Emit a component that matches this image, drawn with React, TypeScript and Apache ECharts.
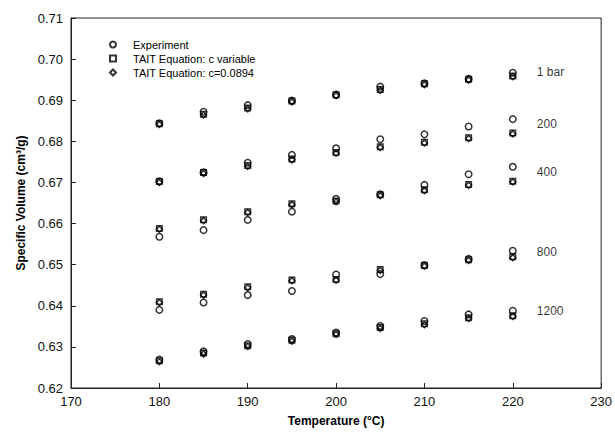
import React, { useEffect, useRef } from "react";
import * as echarts from "echarts";

// Temperatures (°C)
const temperatures = [180, 185, 190, 195, 200, 205, 210, 215, 220];
const pressureLabels = ["1 bar", "200", "400", "800", "1200"];

// Experiment (specific volume, cm3/g)
const exp1bar = [0.6844, 0.6872, 0.6888, 0.6899, 0.6914, 0.6933, 0.6941, 0.6952, 0.6967];
const exp200 = [0.6703, 0.6725, 0.6748, 0.6767, 0.6783, 0.6805, 0.6817, 0.6836, 0.6854];
const exp400 = [0.6568, 0.6584, 0.6609, 0.6629, 0.666, 0.6671, 0.6694, 0.672, 0.6738];
const exp800 = [0.639, 0.6408, 0.6426, 0.6436, 0.6476, 0.6477, 0.6499, 0.6514, 0.6534];
const exp1200 = [0.6269, 0.6289, 0.6307, 0.6319, 0.6335, 0.6351, 0.6363, 0.6379, 0.6388];

// TAIT Equation: c variable
const taitVar1bar = [0.6843, 0.6866, 0.6881, 0.6898, 0.6913, 0.6926, 0.694, 0.6951, 0.6959];
const taitVar200 = [0.6702, 0.6724, 0.6741, 0.6757, 0.6773, 0.6787, 0.6798, 0.6809, 0.682];
const taitVar400 = [0.6588, 0.6609, 0.6629, 0.6648, 0.6655, 0.667, 0.6682, 0.6695, 0.6703];
const taitVar800 = [0.641, 0.6428, 0.6446, 0.6463, 0.6464, 0.6488, 0.6498, 0.6512, 0.6519];
const taitVar1200 = [0.6266, 0.6285, 0.6303, 0.6316, 0.6332, 0.6347, 0.6356, 0.6371, 0.6376];

// TAIT Equation: c=0.0894
const taitFix1bar = [0.6841, 0.6864, 0.6879, 0.6896, 0.6911, 0.6924, 0.6938, 0.6949, 0.6957];
const taitFix200 = [0.67, 0.6722, 0.6739, 0.6755, 0.6771, 0.6785, 0.6796, 0.6807, 0.6818];
const taitFix400 = [0.6586, 0.6607, 0.6627, 0.6646, 0.6653, 0.6668, 0.668, 0.6693, 0.6701];
const taitFix800 = [0.6408, 0.6426, 0.6444, 0.6461, 0.6462, 0.6486, 0.6496, 0.651, 0.6517];
const taitFix1200 = [0.6264, 0.6283, 0.6301, 0.6314, 0.633, 0.6345, 0.6354, 0.6369, 0.6374];

const seriesNames = ["Experiment", "TAIT Equation: c variable", "TAIT Equation: c=0.0894"];

const expGroups = [exp1bar, exp200, exp400, exp800, exp1200];
const varGroups = [taitVar1bar, taitVar200, taitVar400, taitVar800, taitVar1200];
const fixGroups = [taitFix1bar, taitFix200, taitFix400, taitFix800, taitFix1200];

const toPairs = (groups: number[][]) =>
  groups.flatMap((g) => g.map((v, i) => [temperatures[i], v]));

const FONT = "Liberation Sans, Arial, sans-serif";
const INK = "#000";

export default function App() {
  const ref = useRef<HTMLDivElement>(null);

  useEffect(() => {
    if (!ref.current) return;
    const chart = echarts.init(ref.current, undefined, { renderer: "svg" });
    const last = temperatures.length - 1;
    const labelData = pressureLabels.map((name, k) => ({
      name,
      value: [temperatures[last], (expGroups[k][last] + varGroups[k][last]) / 2],
    }));

    const markerStyle = {
      color: "transparent",
      borderColor: "#000",
      borderWidth: 1.5,
    };

    chart.setOption({
      animation: false,
      backgroundColor: "#fff",
      textStyle: { fontFamily: FONT },
      grid: { left: 71, right: 9, top: 18, bottom: 44, containLabel: false, show: true, borderColor: "#222", borderWidth: 1 },
      legend: {
        data: seriesNames,
        orient: "vertical",
        left: 104,
        top: 34,
        itemWidth: 6,
        itemHeight: 6,
        itemGap: 3,
        textStyle: { fontFamily: FONT, fontSize: 11, color: INK, padding: [0, 0, 0, 12], lineHeight: 11 },
      },
      xAxis: {
        type: "value",
        min: 170,
        max: 230,
        interval: 10,
        name: "Temperature (°C)",
        nameLocation: "middle",
        nameGap: 27,
        nameTextStyle: { fontFamily: FONT, fontSize: 12, fontWeight: "bold", color: INK },
        axisLine: { show: true, lineStyle: { color: "#222", width: 1 } },
        axisTick: { show: true, inside: true, length: 5, lineStyle: { color: "#222" } },
        axisLabel: { fontFamily: FONT, fontSize: 13, color: "#111", margin: 7 },
        splitLine: { show: false },
      },
      yAxis: {
        type: "value",
        min: 0.62,
        max: 0.71,
        interval: 0.01,
        name: "Specific Volume (cm³/g)",
        nameLocation: "middle",
        nameGap: 44,
        nameTextStyle: { fontFamily: FONT, fontSize: 12, fontWeight: "bold", color: INK },
        axisLine: { show: true, lineStyle: { color: "#222", width: 1 } },
        axisTick: { show: true, inside: true, length: 5, lineStyle: { color: "#222" } },
        axisLabel: { fontFamily: FONT, fontSize: 13, color: "#111", margin: 8, formatter: (v: number) => v.toFixed(2) },
        splitLine: { show: false },
      },
      series: [
        {
          name: seriesNames[0],
          type: "scatter",
          symbol: "circle",
          symbolSize: 6.5,
          itemStyle: markerStyle,
          data: toPairs(expGroups),
        },
        {
          name: seriesNames[1],
          type: "scatter",
          symbol: "rect",
          symbolSize: 5.5,
          itemStyle: markerStyle,
          data: toPairs(varGroups),
        },
        {
          name: seriesNames[2],
          type: "scatter",
          symbol: "diamond",
          symbolSize: 6,
          itemStyle: markerStyle,
          data: toPairs(fixGroups),
        },
        {
          name: "pressure",
          type: "scatter",
          symbolSize: 0,
          silent: true,
          data: labelData,
          label: {
            show: true,
            position: "right",
            distance: 24,
            offset: [0, -2],
            formatter: (p: any) => p.name,
            fontFamily: FONT,
            fontSize: 12,
            color: INK,
          },
        },
      ],
    });
    return () => chart.dispose();
  }, []);

  return (
    <div
      ref={ref}
      style={{ position: "fixed", left: 0, top: 0, width: 615, height: 432, background: "#fff" }}
    />
  );
}
